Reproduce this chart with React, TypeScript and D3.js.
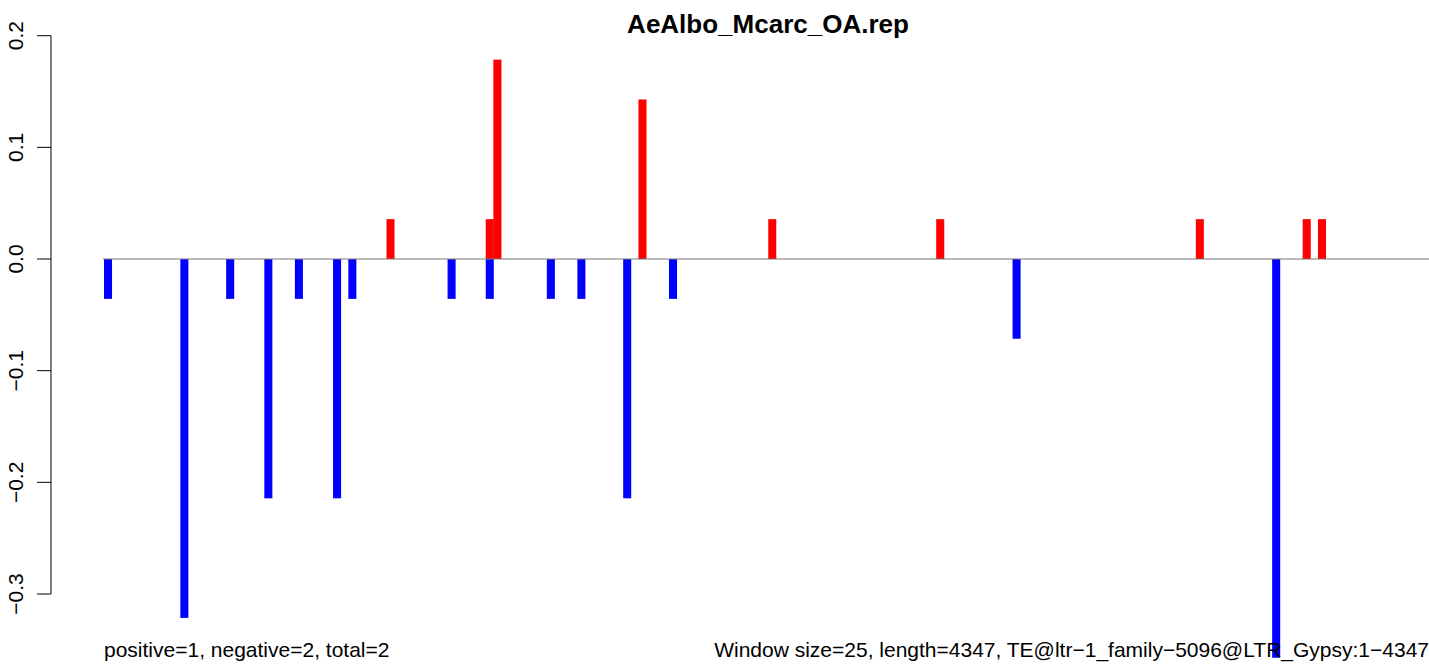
import { scaleLinear } from "d3";

const title = "AeAlbo_Mcarc_OA.rep";
const leftNote = "positive=1, negative=2, total=2";
const rightNote = "Window size=25, length=4347, TE@ltr\u22121_family\u22125096@LTR_Gypsy:1\u22124347";

const windowCount = 174;

// windows with a negative score (blue)
const negWindows = [0, 10, 16, 21, 25, 30, 32, 45, 50, 58, 62, 68, 74, 119, 153];
const negValues = [
  -0.0357, -0.3214, -0.0357, -0.2143, -0.0357, -0.2143, -0.0357, -0.0357, -0.0357, -0.0357, -0.0357,
  -0.2143, -0.0357, -0.0714, -0.3571
];

// windows with a positive score (red)
const posWindows = [37, 50, 51, 70, 87, 109, 143, 157, 159];
const posValues = [0.0357, 0.0357, 0.1786, 0.1429, 0.0357, 0.0357, 0.0357, 0.0357, 0.0357];

const yTicks = [-0.3, -0.2, -0.1, 0.0, 0.1, 0.2];
const yTickLabels = ["\u22120.3", "\u22120.2", "\u22120.1", "0.0", "0.1", "0.2"];

const W = 1429;
const H = 664;
const font = "'Liberation Sans', Arial, Helvetica, sans-serif";

export default function App() {
  const x = scaleLinear().domain([0, windowCount]).range([104, 104 + windowCount * 7.635]);
  const y = scaleLinear().domain([-0.3, 0.2]).range([594, 35.7]);
  const step = x(1) - x(0);
  const axisX = 51;

  const bar = (w: number, v: number, color: string, key: string) => {
    const y0 = y(0);
    const y1 = y(v);
    return (
      <rect
        key={key}
        x={x(w)}
        y={Math.min(y0, y1)}
        width={step + 0.4}
        height={Math.abs(y1 - y0)}
        fill={color}
      />
    );
  };

  return (
    <div style={{ position: "absolute", left: 0, top: 0 }}>
      <svg width={W} height={H} style={{ display: "block", background: "#fff" }}>
        {negWindows.map((w, i) => bar(w, negValues[i], "#0000ff", `n${i}`))}
        {posWindows.map((w, i) => bar(w, posValues[i], "#ff0000", `p${i}`))}
        <line x1={103} x2={W} y1={y(0)} y2={y(0)} stroke="#777" strokeWidth={1} />

        {/* y axis */}
        <line x1={axisX} x2={axisX} y1={y(-0.3)} y2={y(0.2)} stroke="#000" strokeWidth={1} />
        {yTicks.map((t, i) => (
          <g key={t}>
            <line x1={axisX - 14} x2={axisX} y1={y(t)} y2={y(t)} stroke="#000" strokeWidth={1} />
            <text
              transform={`translate(23, ${y(t)}) rotate(-90)`}
              textAnchor="middle"
              fontFamily={font}
              fontSize={21}
              fill="#000"
            >
              {yTickLabels[i]}
            </text>
          </g>
        ))}

        <text x={768} y={33} textAnchor="middle" fontFamily={font} fontSize={26} fontWeight="bold" fill="#000">
          {title}
        </text>
        <text x={104} y={657} fontFamily={font} fontSize={21} fill="#000">
          {leftNote}
        </text>
        <text x={1429} y={657} textAnchor="end" fontFamily={font} fontSize={21} fill="#000">
          {rightNote}
        </text>
      </svg>
    </div>
  );
}
